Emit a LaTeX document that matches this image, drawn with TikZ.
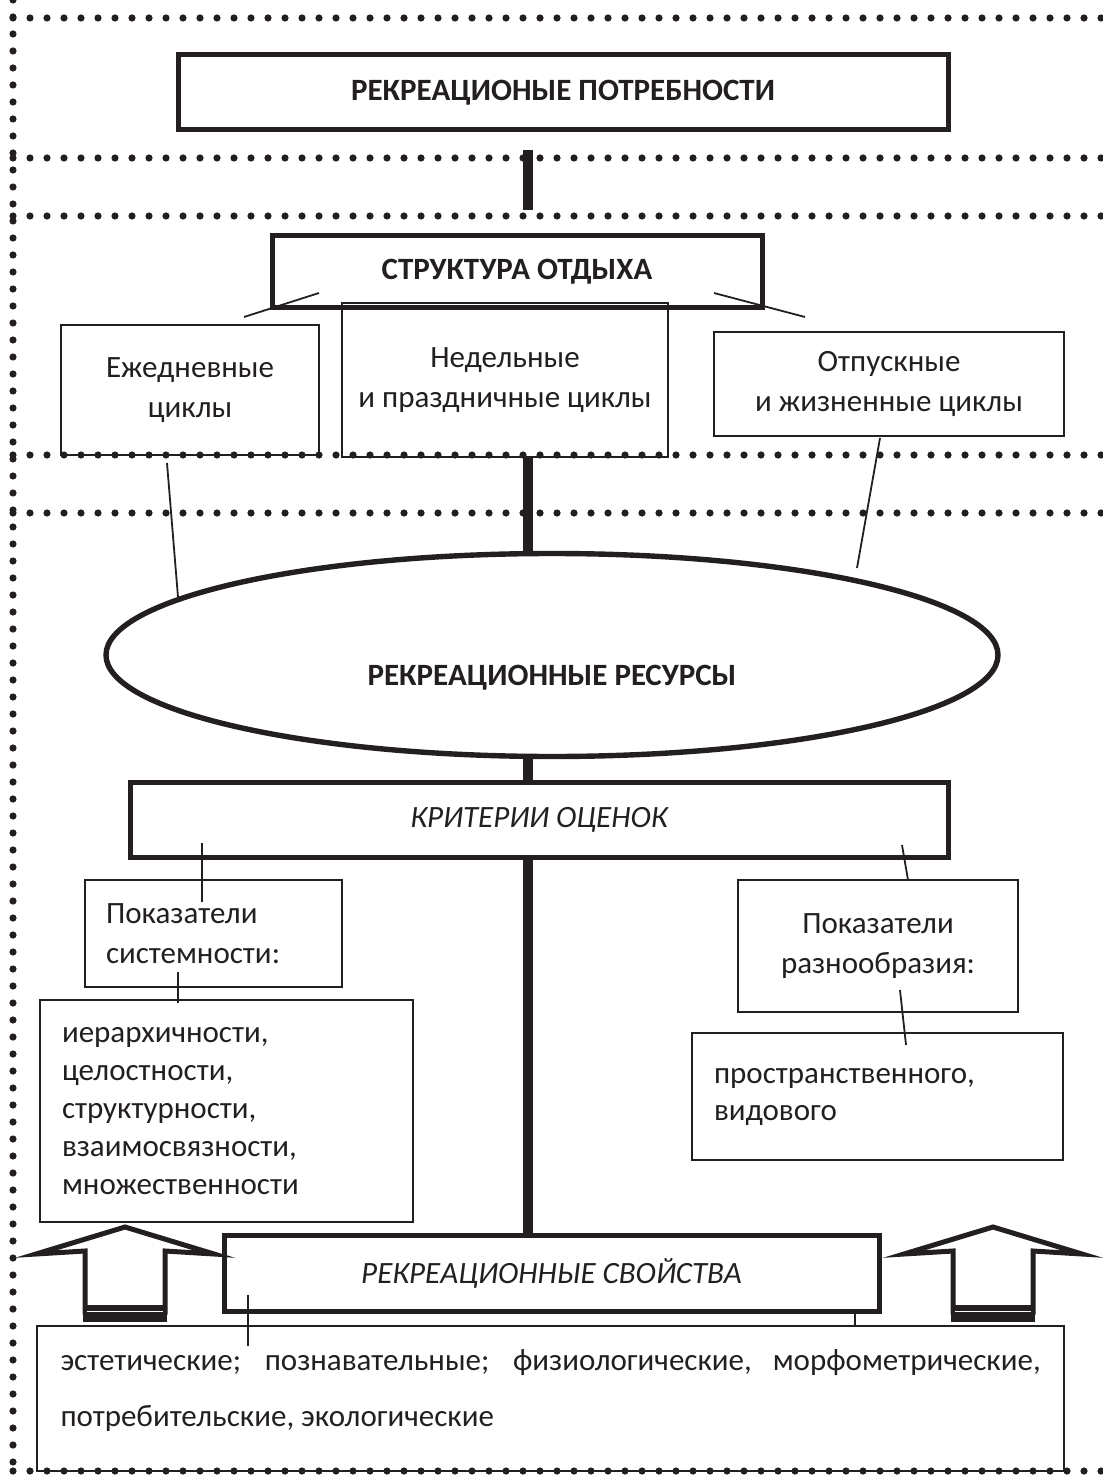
\documentclass[tikz,border=0pt]{standalone}
\usepackage{fontspec}
\setmainfont{Carlito}
\usetikzlibrary{shapes.geometric}
\definecolor{ink}{RGB}{35,31,32}

\begin{document}
\begin{tikzpicture}[x=0.5pt,y=-0.5pt,ink]
\tikzstyle{every node}+=[inner sep=0pt, text=ink, font=\fontsize{15.5}{20}\selectfont]
\tikzstyle{dots}=[line width=3.6pt, line cap=round, dash pattern=on 0pt off 8.5pt]
\tikzstyle{bigbox}=[draw, line width=2.5pt, align=center]
\tikzstyle{box}=[draw, line width=1pt, align=center]
\tikzstyle{trunk}=[line width=5pt]
\tikzstyle{link}=[line width=0.9pt]
\useasboundingbox (0,0) rectangle (1102,1476);

\foreach \y in {18,158,216,455,513,1471}
  \draw[dots] (13,\y) -- (1102,\y);
\draw[dots] (13,0) -- (13,1476);

\node[bigbox, minimum width=385pt, minimum height=37.5pt, font=\fontsize{15.5}{20}\selectfont\bfseries] (need) at (563,92.5) {РЕКРЕАЦИОНЫЕ ПОТРЕБНОСТИ};
\node[bigbox, minimum width=245pt, minimum height=36pt, font=\fontsize{15.5}{20}\selectfont\bfseries] (rest) at (517,272) {СТРУКТУРА ОТДЫХА};
\node[box, minimum width=129pt, minimum height=65pt] (daily) at (190,390) {Ежедневные\\циклы};
\node[box, minimum width=163pt, minimum height=77pt] (week) at (505,380) {Недельные\\и праздничные циклы};
\node[box, minimum width=175pt, minimum height=52pt] (vac) at (889,384) {Отпускные\\и жизненные циклы};
\node[ellipse, draw, line width=2.7pt, minimum width=446pt, minimum height=101.5pt,
  label={[yshift=-11.5pt, font=\fontsize{15.5}{20}\selectfont\bfseries]center:РЕКРЕАЦИОННЫЕ РЕСУРСЫ}] (res) at (552,655) {};
\node[bigbox, minimum width=409pt, minimum height=37.5pt, font=\fontsize{15.5}{20}\selectfont\itshape] (crit) at (539,820) {КРИТЕРИИ ОЦЕНОК};
\node[box, minimum width=128.5pt, minimum height=53.5pt, text width=107.5pt, align=left] (sys) at (213.5,933.5) {Показатели\\системности:};
\node[box, minimum width=186.5pt, minimum height=111pt, text width=164.5pt, align=left, font=\fontsize{15.5}{19}\selectfont] (syslist) at (226.5,1111) {иерархичности,\\целостности,\\структурности,\\взаимосвязности,\\множественности};
\node[box, minimum width=140pt, minimum height=66pt] (div) at (878,946) {Показатели\\разнообразия:};
\node[box, minimum width=185.5pt, minimum height=63.5pt, text width=163.5pt, align=left, font=\fontsize{15.5}{18.5}\selectfont] (divlist) at (877.5,1096.5) {пространственного,\\видового};
\node[bigbox, minimum width=327.5pt, minimum height=38pt, font=\fontsize{15.5}{20}\selectfont\itshape] (props) at (551.5,1273) {РЕКРЕАЦИОННЫЕ СВОЙСТВА};
\node[box, minimum width=513.5pt, minimum height=72.5pt, text width=490pt, align=justify, font=\fontsize{15.5}{28}\selectfont] (kinds) at (550.5,1398.5) {\hyphenpenalty=10000 эстетические; познавательные; физиологические, морфометрические, потребительские, экологические\par\vspace{8pt}};

\coordinate (axis) at (528,0);
\coordinate (b1) at (528,150);
\coordinate (b2) at (528,210);
\draw[trunk] (b1) -- (b2);
\draw[trunk] (axis |- week.south) -- (axis |- res.north);
\draw[trunk] (axis |- res.south) -- (axis |- crit.north);
\draw[trunk] (axis |- crit.south) -- (axis |- props.north);

\coordinate (l1a) at (244,317); \coordinate (l1b) at (319,293);
\coordinate (l2a) at (714,293); \coordinate (l2b) at (805,317);
\coordinate (l3a) at (167,463); \coordinate (l3b) at (178,597);
\coordinate (l4a) at (880,438); \coordinate (l4b) at (857,568);
\coordinate (l5a) at (202,843); \coordinate (l5b) at (202,902);
\coordinate (l6a) at (178,972); \coordinate (l6b) at (178,1003);
\coordinate (l7a) at (902,845); \coordinate (l7b) at (908,880);
\coordinate (l8a) at (900,990); \coordinate (l8b) at (906,1045);
\coordinate (l9a) at (248,1295); \coordinate (l9b) at (248,1346);
\coordinate (l10a) at (855,1311); \coordinate (l10b) at (855,1326);
\foreach \i in {1,...,10}
  \draw[link] (l\i a) -- (l\i b);

\foreach \ax in {125,993} {
  \draw[line width=2.5pt, line join=miter] (\ax-89,1254) -- (\ax,1227) -- (\ax+89,1254) -- (\ax+40,1251) -- (\ax+40,1312) -- (\ax-40,1312) -- (\ax-40,1251) -- cycle;
  \fill (\ax-42,1305) rectangle (\ax+42,1322);
  \draw[white, line width=0.6pt] (\ax-38,1311.5) -- (\ax+38,1311.5);
}
\end{tikzpicture}
\end{document}
